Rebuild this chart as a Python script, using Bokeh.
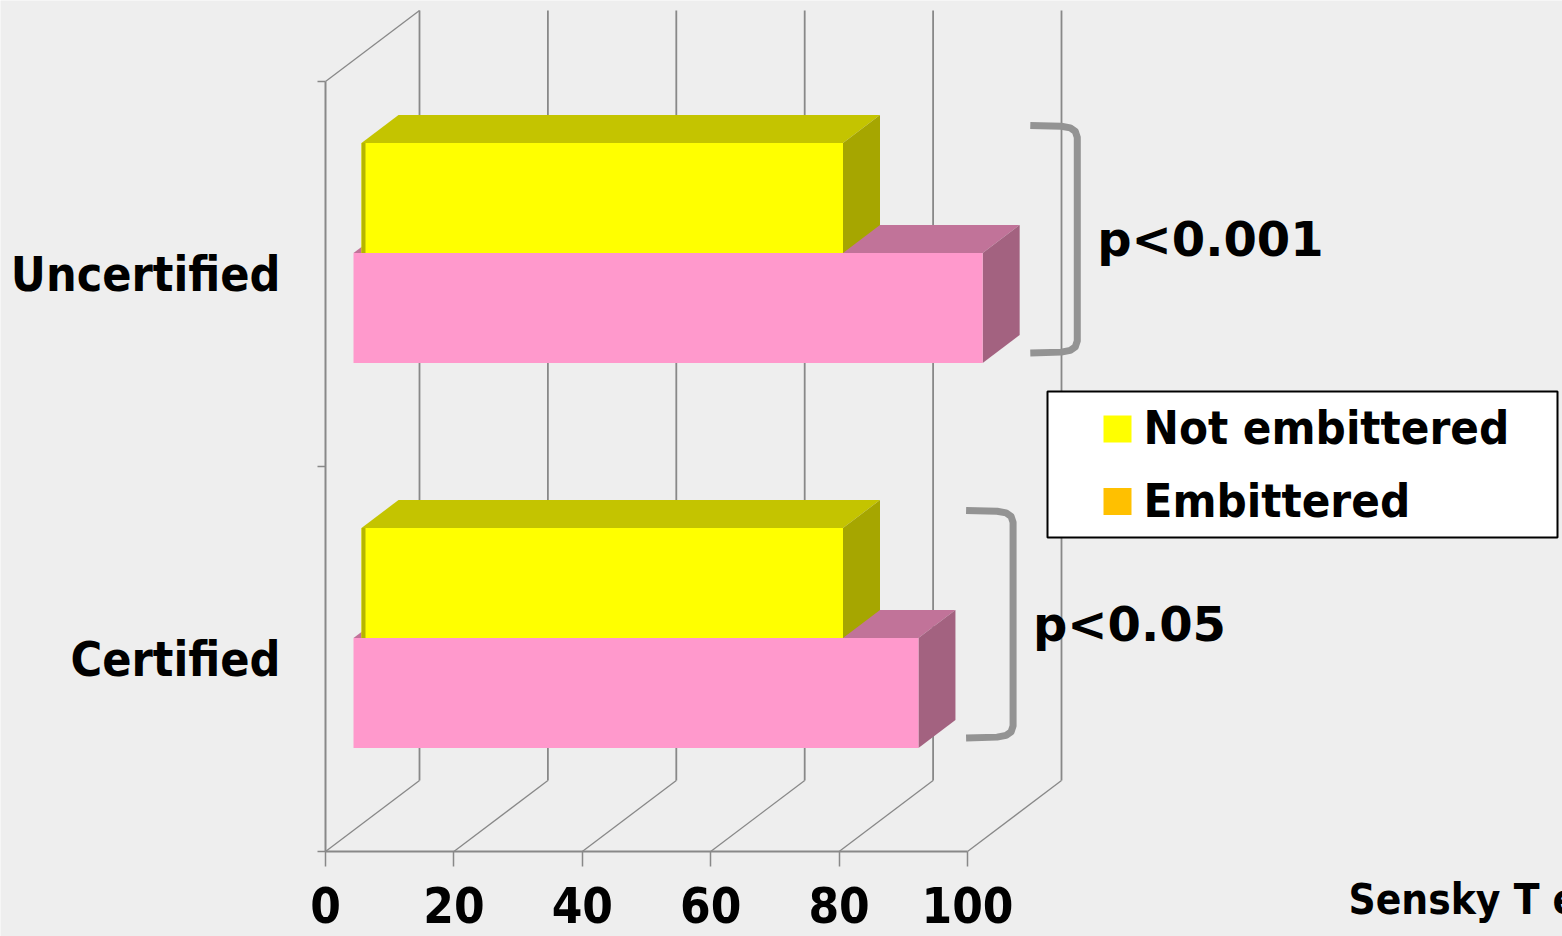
from bokeh.plotting import figure
from bokeh.models import Range1d, FixedTicker, LinearAxis, Label
from bokeh.core.properties import value
from bokeh.embed import file_html
from bokeh.resources import INLINE

# ---------------- data ----------------
categories = ["Certified", "Uncertified"]
series_names = ["Not embittered", "Embittered"]
not_embittered = [75, 75]
embittered = [88, 98]
x_ticks = [0, 20, 40, 60, 80, 100]
p_values = ["p<0.05", "p<0.001"]
legend_colors = ["#FFFF00", "#FFC000"]
source_text = "Sensky T et al."

# ---------------- layout constants ----------------
W, H = 1562, 936
X0, Y0 = 325, 851        # pixel position of the (0, 0) corner of the front axes
PXX = 6.42               # px per x unit
PXY = 385.0              # px per category unit
TXT = 18                 # baseline correction (px) for 48px text


def dx(px):
    return px / PXX


def dy(px):
    return px / PXY


def X(px):
    return (px - X0) / PXX


def Y(py):
    return (Y0 - py) / PXY


WALL_X, WALL_Y = dx(94), dy(71)      # depth of the 3-D box
BAR_DX, BAR_DY = dx(37), dy(28)      # depth of each bar
BAR_T = 1 / 3.5                      # bar thickness (gap width 150%)
GRID = "#888888"
LABEL_FONT = "DejaVu Sans Condensed"
P_FONT = "DejaVu Sans"

p = figure(width=W, height=H, output_backend="svg", toolbar_location=None,
           x_range=Range1d(X(0), X(W)), y_range=Range1d(Y(H), Y(0)),
           min_border=0, x_axis_location=None, y_axis_location=None)
p.background_fill_color = "#EEEEEE"
p.border_fill_color = "#EEEEEE"
p.outline_line_color = None
p.xgrid.grid_line_color = None
p.ygrid.grid_line_color = None

n_cat = len(categories)

# back wall gridlines
p.segment(x0=[v + WALL_X for v in x_ticks], y0=WALL_Y, x1=[v + WALL_X for v in x_ticks],
          y1=n_cat + WALL_Y, line_color=GRID, line_width=1.8)
# floor diagonals
p.segment(x0=x_ticks, y0=0, x1=[v + WALL_X for v in x_ticks], y1=WALL_Y,
          line_color=GRID, line_width=1.3)
# left wall top diagonal
p.segment(x0=[0], y0=[n_cat], x1=[WALL_X], y1=[n_cat + WALL_Y], line_color=GRID, line_width=1.3)

# ---------------- axes (fixed inside the full-canvas frame) ----------------
xaxis = LinearAxis(ticker=FixedTicker(ticks=x_ticks, minor_ticks=[]), fixed_location=0,
                   bounds=(0, 100))
xaxis.axis_line_color = GRID
xaxis.axis_line_width = 2
xaxis.major_tick_in = 0
xaxis.major_tick_out = 15
xaxis.major_tick_line_color = GRID
xaxis.major_tick_line_width = 1.5
xaxis.minor_tick_line_color = None
xaxis.major_label_text_font = LABEL_FONT
xaxis.major_label_text_font_size = "49px"
xaxis.major_label_text_font_style = "bold"
xaxis.major_label_text_color = "black"
xaxis.major_label_standoff = 20
p.add_layout(xaxis, "below")

cat_centers = [i + 0.5 for i in range(n_cat)]
yaxis = LinearAxis(ticker=FixedTicker(ticks=cat_centers, minor_ticks=list(range(n_cat + 1))),
                   fixed_location=0, bounds=(0, n_cat))
yaxis.axis_line_color = GRID
yaxis.axis_line_width = 2
yaxis.major_tick_in = 0
yaxis.major_tick_out = 0
yaxis.major_tick_line_color = None
yaxis.minor_tick_in = 0
yaxis.minor_tick_out = 8
yaxis.minor_tick_line_color = GRID
yaxis.minor_tick_line_width = 1.5
yaxis.major_label_overrides = {c: name for c, name in zip(cat_centers, categories)}
yaxis.major_label_text_font = LABEL_FONT
yaxis.major_label_text_font_size = "48px"
yaxis.major_label_text_font_style = "bold"
yaxis.major_label_text_color = "black"
yaxis.major_label_standoff = 37
p.add_layout(yaxis, "left")


# ---------------- 3-D bars ----------------
def faces(vals, lower, ox, oy):
    front_x, front_y, top_x, top_y, side_x, side_y = [], [], [], [], [], []
    for i, v in enumerate(vals):
        ylo = i + 0.5 + lower + oy
        yhi = ylo + BAR_T
        front_x.append([ox, v + ox, v + ox, ox])
        front_y.append([ylo, ylo, yhi, yhi])
        top_x.append([ox, v + ox, v + ox + BAR_DX, ox + BAR_DX])
        top_y.append([yhi, yhi, yhi + BAR_DY, yhi + BAR_DY])
        side_x.append([v + ox, v + ox + BAR_DX, v + ox + BAR_DX, v + ox])
        side_y.append([ylo, ylo + BAR_DY, yhi + BAR_DY, yhi])
    return front_x, front_y, top_x, top_y, side_x, side_y


# Embittered (pink), drawn first
fx, fy, tx, ty, sx, sy = faces(embittered, -BAR_T, dx(28), dy(21))
p.patches(tx, ty, fill_color="#C17399", line_color=None)
p.patches(sx, sy, fill_color="#A36280", line_color=None)
p.patches(fx, fy, fill_color="#FF99CC", line_color=None)

# Not embittered (yellow)
fx, fy, tx, ty, sx, sy = faces(not_embittered, 0.0, dx(36), dy(21))
p.patches(tx, ty, fill_color="#C4C400", line_color=None)
p.patches(sx, sy, fill_color="#A6A600", line_color=None)
p.patches(fx, fy, fill_color="#FFFF00", line_color=None)
# bevel on the left edge of the yellow front face
p.patches([[x[0], x[0] + dx(4), x[0] + dx(4), x[0]] for x in fx], [y for y in fy],
          fill_color="#B5B500", line_color=None)

# ---------------- significance brackets ----------------
arm = [(-47, 0), (-16, 0.8), (-7, 2.5), (-2, 6), (0, 12)]   # px offsets of the rounded corner
for i, (a, b) in enumerate(zip(not_embittered, embittered)):
    vmax = max(a, b)
    xv = vmax + 19.1
    top = i + 0.886
    bot = i + 0.295
    bx = [xv + dx(o[0]) for o in arm] + [xv + dx(o[0]) for o in reversed(arm)]
    by = [top - dy(o[1]) for o in arm] + [bot + dy(o[1]) for o in reversed(arm)]
    p.line(bx, by, line_color="#939393", line_width=7, line_join="round", line_cap="butt")
    p.text(x=[vmax + 22.2], y=[i + 0.5436 + dy(TXT)], text=[p_values[i]], text_font=value(P_FONT),
           text_font_size="48px", text_font_style="bold", text_color="black",
           text_baseline="alphabetic", text_align="left")

# ---------------- legend ----------------
p.quad(left=[X(1047)], right=[X(1557)], top=[Y(391)], bottom=[Y(537)],
       fill_color="white", line_color="black", line_width=2)
for k, (name, col) in enumerate(zip(series_names, legend_colors)):
    top_px = 415 + k * 72.5
    p.quad(left=[X(1103)], right=[X(1131)], top=[Y(top_px)], bottom=[Y(top_px + 27)],
           fill_color=col, line_color=None)
    p.text(x=[X(1143)], y=[Y(445 + k * 72.5 - TXT)], text=[name],
           text_font=value(LABEL_FONT), text_font_size="47px", text_font_style="bold",
           text_color="black", text_baseline="alphabetic", text_align="left")

# ---------------- source ----------------
p.add_layout(Label(x=X(1348), y=Y(915 - 16), text=source_text,
                   text_font=LABEL_FONT, text_font_size="42px", text_font_style="bold",
                   text_color="black", text_baseline="alphabetic", text_align="left"))

open("out.html", "w").write(file_html(p, INLINE))
